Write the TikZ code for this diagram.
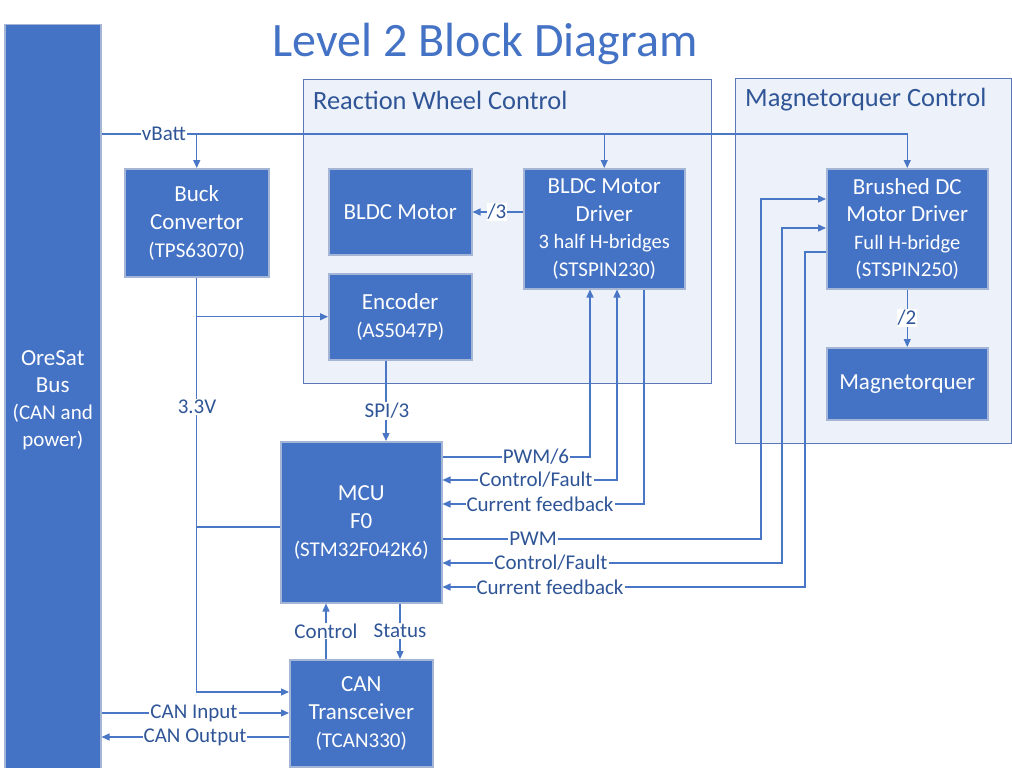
\documentclass[tikz,border=0pt]{standalone}
\usepackage{fontspec}
\setmainfont{Carlito}
\usetikzlibrary{arrows.meta}
\definecolor{boxblue}{HTML}{4472C4}
\definecolor{boxedge}{HTML}{A5B5D6}
\definecolor{grpfill}{HTML}{EDF1F9}
\definecolor{grpedge}{HTML}{5A78B8}
\definecolor{lineblue}{HTML}{4A76C6}
\definecolor{txtblue}{HTML}{2F5597}
\newcommand\myfs[2]{\fontsize{#1}{#2}\selectfont}
\begin{document}
\begin{tikzpicture}[x=1pt,y=-1pt,
  blk/.style={draw=boxedge, fill=boxblue, text=white, line width=1.5pt, align=center,
    inner sep=0pt, anchor=north west, font=\myfs{23}{28}},
  grp/.style={draw=grpedge, fill=grpfill, line width=1pt, anchor=north west, inner sep=0pt},
  grplbl/.style={anchor=west, inner sep=0pt, text=txtblue, font=\myfs{26.4}{30}},
  ln/.style={draw=lineblue, line width=1.3pt},
  arr/.style={ln, -{Triangle[length=8pt,width=7pt]}},
  barr/.style={ln, {Triangle[length=8pt,width=7pt]}-{Triangle[length=8pt,width=7pt]}},
  lbl/.style={fill=white, text=txtblue, inner sep=1pt, font=\myfs{21}{24}}
]
\useasboundingbox (0,0) rectangle (1012,768);
\fill[white] (0,0) rectangle (1012,768);

% title
\node[text=boxblue, font=\myfs{48}{50}, inner sep=0pt] (title) at (485,44) {Level 2 Block Diagram};

% groups
\node[grp, minimum width=408, minimum height=304] (rwc) at (303,79) {};
\node[grplbl] (rwcl) at (313,100) {Reaction Wheel Control};
\node[grp, minimum width=276, minimum height=365] (mtc) at (735,78) {};
\node[grplbl] (mtcl) at (745,100) {Magnetorquer Control};

% blocks
\node[blk, minimum width=96, minimum height=750, font=\myfs{23}{27}] (bus) at (4,24)
  {OreSat\\Bus\\{\myfs{21}{27}(CAN and}\\{\myfs{21}{27}power)}};
\node[blk, minimum width=144, minimum height=108] (buck) at (124,168)
  {Buck\\Convertor\\{\myfs{21}{27}(TPS63070)}};
\node[blk, minimum width=143, minimum height=86] (mot) at (328,168) {BLDC Motor};
\node[blk, minimum width=161, minimum height=120, font=\myfs{23}{27.5}] (bdd) at (523,168)
  {BLDC Motor\\Driver\\{\myfs{20.5}{27}3 half H-bridges}\\{\myfs{21}{27}(STSPIN230)}};
\node[blk, minimum width=143, minimum height=86] (enc) at (328,273)
  {Encoder\\{\myfs{21}{27}(AS5047P)}};
\node[blk, minimum width=161, minimum height=120, font=\myfs{23}{27.5}] (mdd) at (826,168)
  {Brushed DC\\Motor Driver\\{\myfs{20.5}{27}Full H-bridge}\\{\myfs{21}{27}(STSPIN250)}};
\node[blk, minimum width=161, minimum height=72] (mag) at (826,347) {Magnetorquer};
\node[blk, minimum width=161, minimum height=161] (mcu) at (280,441)
  {MCU\\F0\\{\myfs{21}{28}(STM32F042K6)}};
\node[blk, minimum width=143, minimum height=107] (can) at (289,659)
  {CAN\\Transceiver\\{\myfs{21}{28}(TCAN330)}};

% vBatt
\coordinate (vb0) at (bus.east |- 0,134);
\draw[arr] (vb0) -| (mdd.north);
\draw[arr] (buck.north |- vb0) -- (buck.north);
\draw[arr] (bdd.north |- vb0) -- (bdd.north);

% 3.3V
\draw[arr] (buck.south) -- (buck.south |- 0,692) -- (can.west |- 0,692);
\draw[arr] (buck.south |- enc.west) -- (enc.west);
\draw[ln] (buck.south |- 0,527) -- (mcu.west |- 0,527);

% SPI
\draw[arr] (enc.south -| 386,0) -- (mcu.north -| 386,0);

% motor
\draw[arr] (bdd.west |- 0,212) -- (mot.east |- 0,212);
\draw[arr] (mdd.south) -- (mag.north);

% MCU <-> CAN
\draw[arr] (can.north -| 326,0) -- (mcu.south -| 326,0);
\draw[arr] (mcu.south -| 400,0) -- (can.north -| 400,0);

% CAN bus
\draw[arr] (bus.east |- 0,713) -- (can.west |- 0,713);
\draw[arr] (can.west |- 0,737) -- (bus.east |- 0,737);

% MCU <-> BLDC driver
\draw[arr] (mcu.east |- 0,457) -| (bdd.south -| 590,0);
\draw[barr] (mcu.east |- 0,480) -| (bdd.south -| 617,0);
\draw[arr] (bdd.south -| 644,0) |- (mcu.east |- 0,504);

% MCU <-> brushed driver
\draw[arr] (mcu.east |- 0,539) -| (761,199) -- (mdd.west |- 0,199);
\draw[barr] (mcu.east |- 0,563) -| (782,228) -- (mdd.west |- 0,228);
\draw[arr] (mdd.west |- 0,252) -| (805,587) -- (mcu.east |- 0,587);

% labels
\node[lbl] (lvb) at (164,134) {vBatt};
\node[lbl] (l33) at (197,407) {3.3V};
\node[lbl] (lspi) at (387,411) {SPI/3};
\node[lbl] (l3) at (497,212) {/3};
\node[lbl] (l2) at (907,318) {/2};
\node[lbl] (lctl) at (326,631) {Control};
\node[lbl] (lsta) at (400,631) {Status};
\node[lbl] (lcin) at (194,713) {CAN Input};
\node[lbl] (lcout) at (195,737) {CAN Output};
\node[lbl] (lpwm6) at (536,457) {PWM/6};
\node[lbl] (lcf1) at (536,480) {Control/Fault};
\node[lbl] (lcur1) at (540,504) {Current feedback};
\node[lbl] (lpwm) at (533,539) {PWM};
\node[lbl] (lcf2) at (551,563) {Control/Fault};
\node[lbl] (lcur2) at (550,587) {Current feedback};
\end{tikzpicture}
\end{document}
